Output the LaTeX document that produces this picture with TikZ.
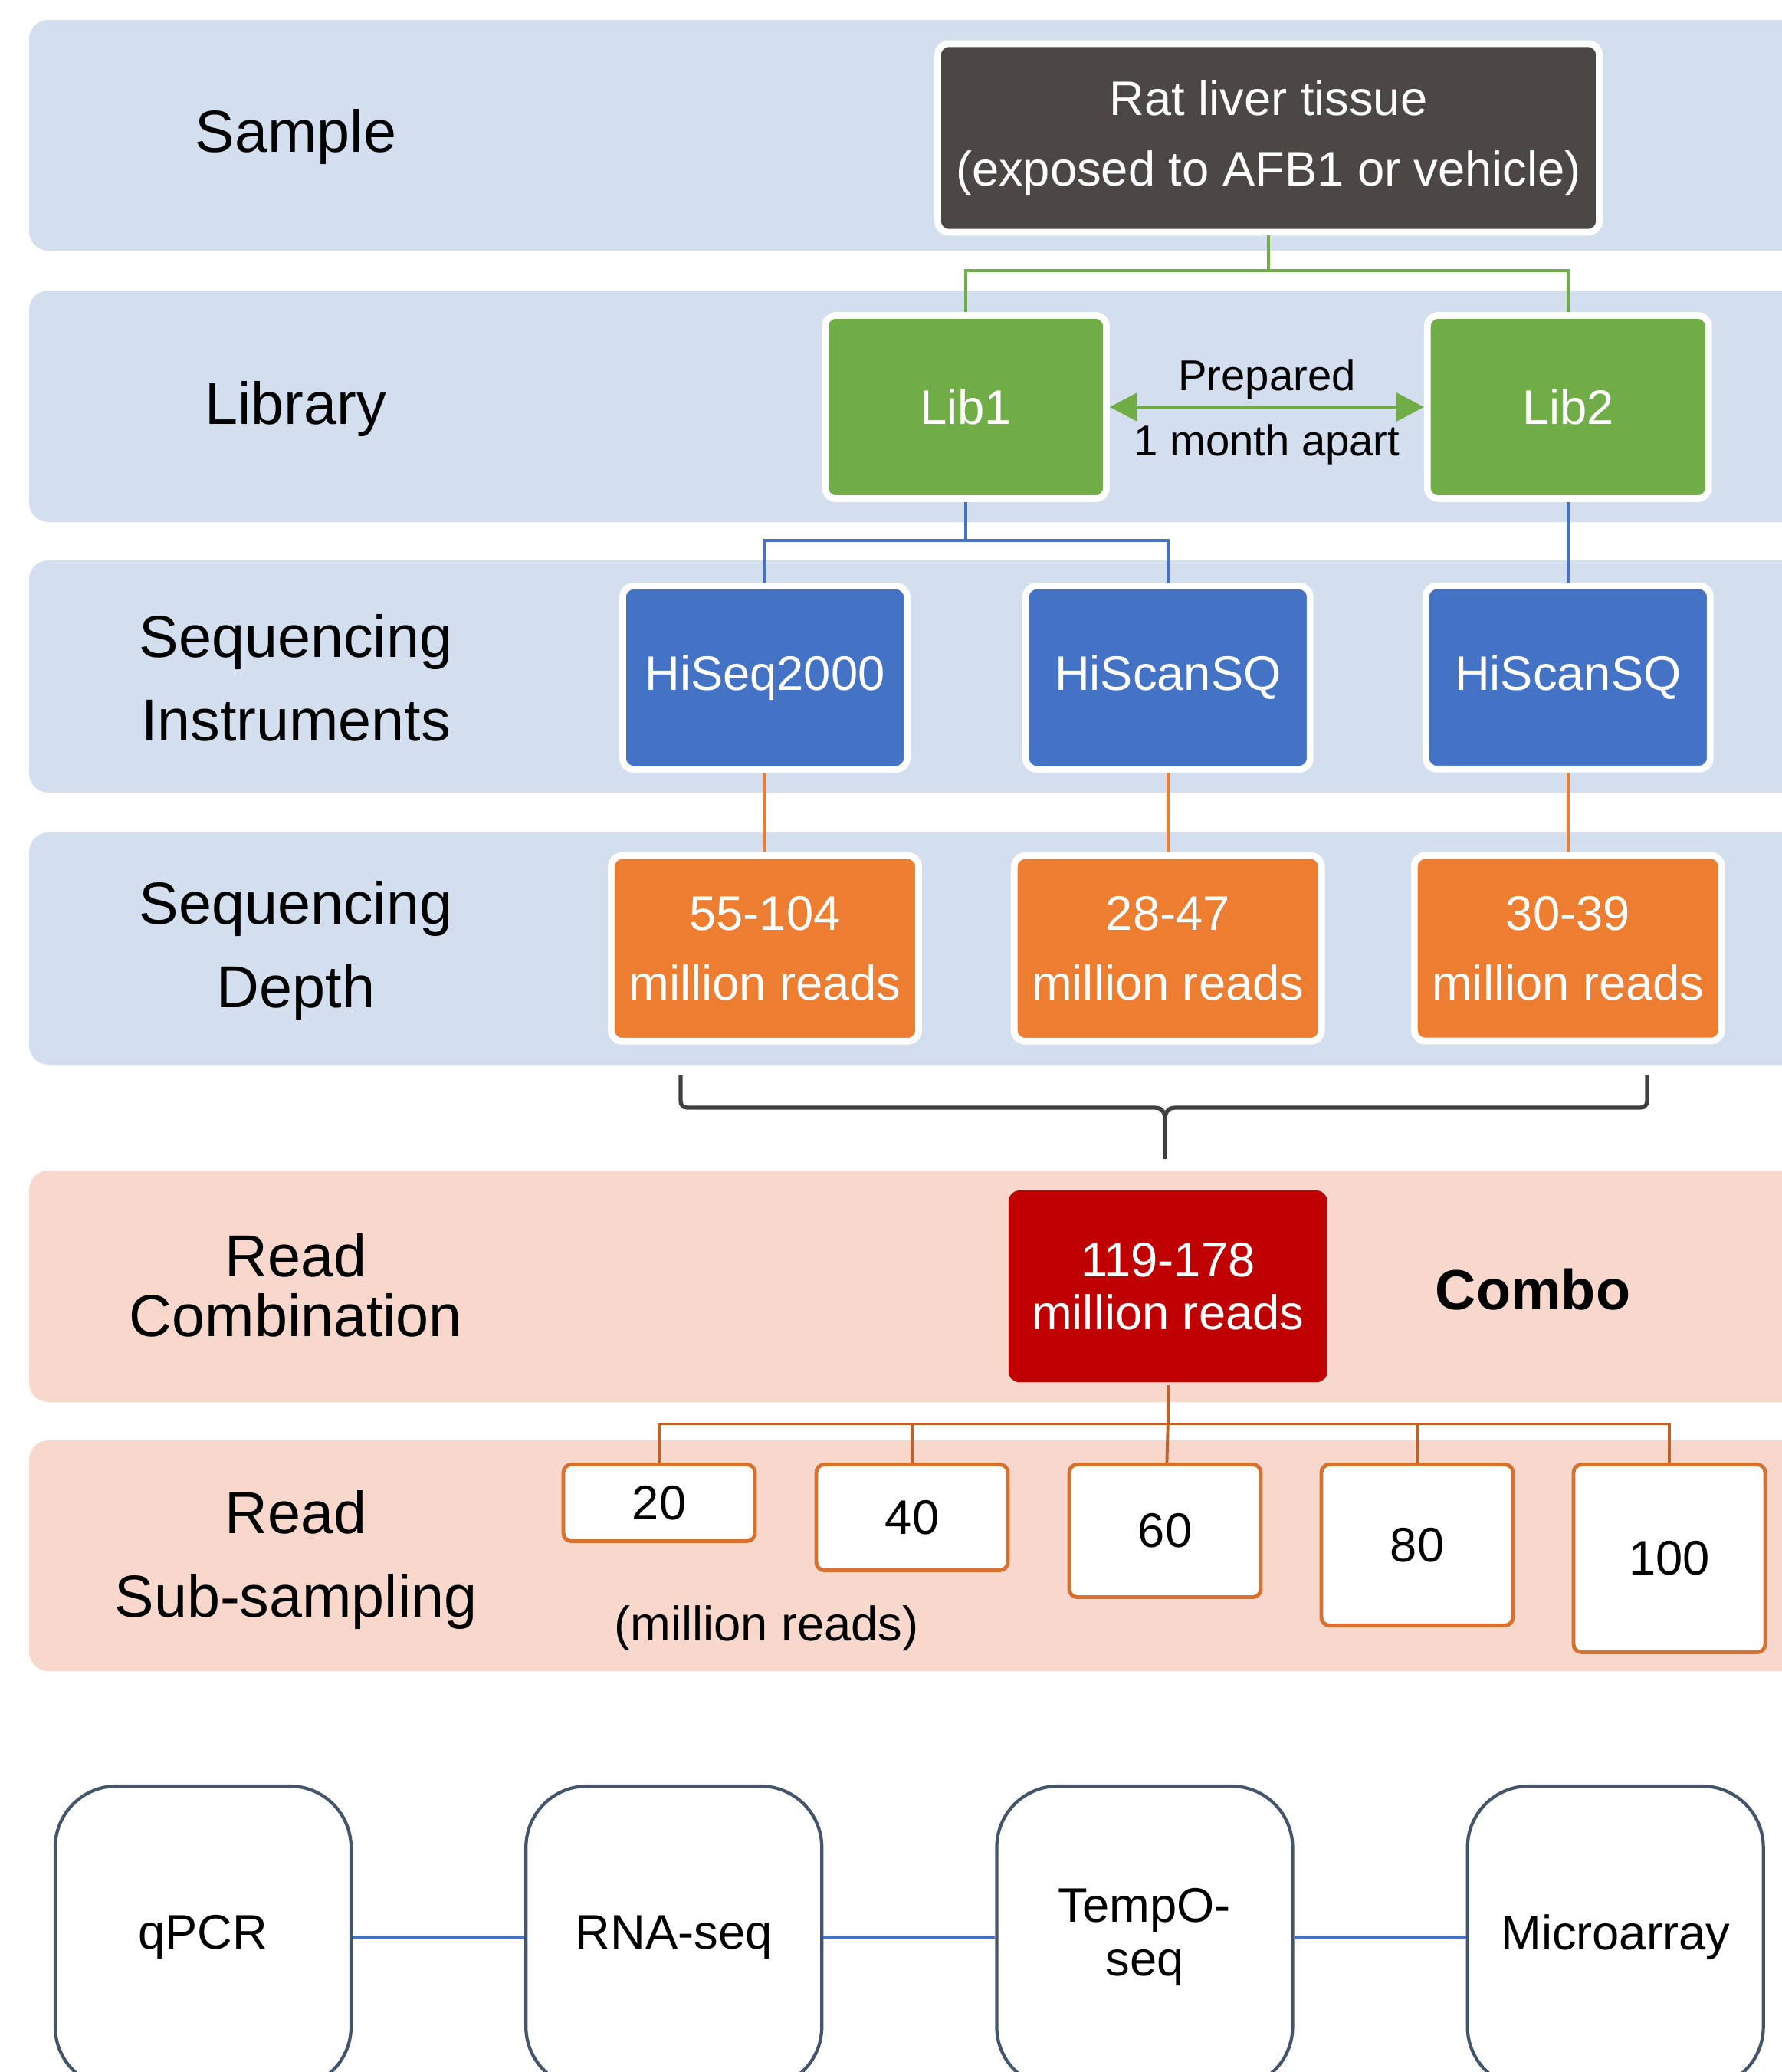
\documentclass[tikz,border=0pt]{standalone}
\usepackage{fontspec}
\setmainfont{Liberation Sans}
\usetikzlibrary{arrows.meta,positioning}

\definecolor{bandblue}{HTML}{D3DEEF}
\definecolor{bandpink}{HTML}{F8D7CD}
\definecolor{tissue}{HTML}{4B4745}
\definecolor{libgreen}{HTML}{70AD47}
\definecolor{seqblue}{HTML}{4472C4}
\definecolor{deporange}{HTML}{ED7D31}
\definecolor{combored}{HTML}{C00000}
\definecolor{subedge}{HTML}{D8712E}
\definecolor{subwire}{HTML}{BF6128}
\definecolor{bracegray}{HTML}{404040}
\definecolor{slate}{HTML}{44546A}

\begin{document}
\begin{tikzpicture}[
  x=1mm, y=-1mm,
  >={Triangle[length=3.6mm, width=3.7mm]},
  every node/.style={font=\fontsize{18}{26}\selectfont},
  box/.style={draw=white, line width=2.5pt, rounded corners=4pt,
              align=center, text=white, inner sep=1pt},
  rowlabel/.style={align=center, font=\fontsize{22}{31}\selectfont},
  subbox/.style={draw=subedge, fill=white, line width=1.4pt, rounded corners=3pt,
                 minimum width=25mm, anchor=north},
  techbox/.style={draw=slate, line width=1.2pt, rounded corners=8mm,
                  minimum width=38.6mm, minimum height=39.4mm, align=center,
                  font=\fontsize{18}{20}\selectfont},
  wire/.style={line width=1.1pt},
]
\useasboundingbox (0,0) rectangle (232.5,270.3);
\clip (0,0) rectangle (232.5,270.3);

% row bands
\fill[bandblue, rounded corners=2.5mm] (3.8,2.6) rectangle (245,32.7);
\fill[bandblue, rounded corners=2.5mm] (3.8,37.9) rectangle (245,68.1);
\fill[bandblue, rounded corners=2.5mm] (3.8,73.1) rectangle (245,103.4);
\fill[bandblue, rounded corners=2.5mm] (3.8,108.6) rectangle (245,138.9);
\fill[bandpink, rounded corners=2.5mm] (3.8,152.7) rectangle (245,182.9);
\fill[bandpink, rounded corners=2.5mm] (3.8,187.9) rectangle (245,218.0);

\node[rowlabel] (lsample) at (38.6,17.9) {Sample};
\node[rowlabel] (llib) at (38.6,53.4) {Library};
\node[rowlabel] (linst) at (38.6,88.4) {Sequencing\\Instruments};
\node[rowlabel] (ldepth) at (38.6,124.0) {Sequencing\\Depth};
\node[rowlabel, font=\fontsize{22}{22}\selectfont] (lcomb) at (38.6,167.7) {Read\\Combination};
\node[rowlabel] (lsub) at (38.6,203.5) {Read\\Sub-sampling};

% sample and libraries
\node[box, fill=tissue, minimum width=86.3mm, minimum height=24.6mm] (rat) at (165.5,18) {Rat liver tissue\\(exposed to AFB1 or vehicle)};
\node[box, fill=libgreen, minimum width=36.7mm, minimum height=23.9mm] (lib1) at (126,53.1) {Lib1};
\node[box, fill=libgreen, minimum width=36.7mm, minimum height=23.9mm, right=41mm of lib1] (lib2) {Lib2};

\draw[wire, libgreen] (rat.south) -- ++(0,4.6) -| (lib1);
\draw[wire, libgreen] (rat.south) -- ++(0,4.6) -| (lib2);
\draw[<->, line width=1pt, libgreen] (lib1) -- node[above=-0.4mm, text=black, font=\fontsize{16}{18}\selectfont] {Prepared}
  node[below=0.9mm, text=black, font=\fontsize{16}{18}\selectfont] {1 month apart} (lib2);

% instruments
\node[box, fill=seqblue, minimum width=37.1mm, minimum height=23.9mm] (seq1) at (99.8,88.4) {HiSeq2000};
\node[box, fill=seqblue, minimum width=37.1mm, minimum height=23.9mm, right=14.6mm of seq1] (seq2) {HiScanSQ};
\node[box, fill=seqblue, minimum width=37.1mm, minimum height=23.9mm, below=10.5mm of lib2] (seq3) {HiScanSQ};

\draw[wire, seqblue] (lib1.south) -- ++(0,5) -| (seq1);
\draw[wire, seqblue] (lib1.south) -- ++(0,5) -| (seq2);
\draw[wire, seqblue] (lib2) -- (seq3);

% depth
\node[box, fill=deporange, minimum width=40.1mm, minimum height=24.2mm, below=10.4mm of seq1] (dep1) {55-104\\million reads};
\node[box, fill=deporange, minimum width=40.1mm, minimum height=24.2mm, below=10.4mm of seq2] (dep2) {28-47\\million reads};
\node[box, fill=deporange, minimum width=40.1mm, minimum height=24.2mm, below=10.4mm of seq3] (dep3) {30-39\\million reads};

\draw[wire, deporange] (seq1) -- (dep1);
\draw[wire, deporange] (seq2) -- (dep2);
\draw[wire, deporange] (seq3) -- (dep3);

% brace
\coordinate (brL) at (88.8,140.3);
\coordinate (brR) at (214.9,140.3);
\coordinate (brTip) at (152,151.2);
\draw[bracegray, line width=1.5pt] (brL) -- (88.8,143.4) .. controls (88.8,144.5) and (89.2,144.5) .. (90.2,144.5)
  -- (150.6,144.5) .. controls (151.6,144.5) and (152,145) .. (152,146.2) -- (brTip);
\draw[bracegray, line width=1.5pt] (brR) -- (214.9,143.4) .. controls (214.9,144.5) and (214.5,144.5) .. (213.5,144.5)
  -- (153.4,144.5) .. controls (152.4,144.5) and (152,145) .. (152,146.2);

% combination
\node[box, draw=none, fill=combored, minimum width=41.6mm, minimum height=25mm,
      font=\fontsize{18}{19.6}\selectfont, below=18.6mm of dep2] (combo) {119-178\\million reads};
\node[font=\bfseries\fontsize{21}{25}\selectfont] (combolbl) at (200,168.2) {Combo};

% sub-sampling
\node[subbox, minimum height=10mm] (sub1) at (86.0,190.8) {20};
\node[subbox, minimum height=13.8mm] (sub2) at (119.0,190.8) {40};
\node[subbox, minimum height=17.3mm] (sub3) at (152.0,190.8) {60};
\node[subbox, minimum height=21mm] (sub4) at (184.9,190.8) {80};
\node[subbox, minimum height=24.5mm] (sub5) at (217.8,190.8) {100};
\node (unit) at (100,212.4) {(million reads)};

\coordinate[below=5mm of combo] (hub);
\draw[wire, subwire] (combo) -- (hub);
\draw[wire, subwire] (hub) -| (sub1);
\draw[wire, subwire] (hub) -| (sub2);
\draw[wire, subwire] (hub) -- (sub3);
\draw[wire, subwire] (hub) -| (sub4);
\draw[wire, subwire] (hub) -| (sub5);

% platforms
\node[techbox] (qpcr) at (26.5,252.7) {qPCR};
\node[techbox, right=22.4mm of qpcr] (rnaseq) {RNA-seq};
\node[techbox, right=22.4mm of rnaseq] (tempo) {TempO-\\seq};
\node[techbox, right=22.4mm of tempo] (micro) {Microarray};

\draw[wire, seqblue] (qpcr) -- (rnaseq);
\draw[wire, seqblue] (rnaseq) -- (tempo);
\draw[wire, seqblue] (tempo) -- (micro);
\end{tikzpicture}
\end{document}
